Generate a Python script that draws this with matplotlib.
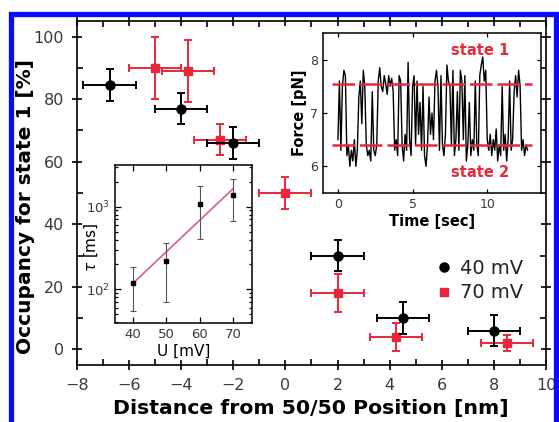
import numpy as np
import matplotlib
matplotlib.use("Agg")
import matplotlib.pyplot as plt
from matplotlib.lines import Line2D
from matplotlib.patches import Rectangle
from matplotlib.ticker import MultipleLocator, LogLocator, NullFormatter

plt.rcParams["font.family"] = ["DejaVu Sans"]

# 主图数据: 40 mV
x40 = [-6.75, -4.0, -2.0, 2.0, 4.5, 8.0]
y40 = [84.5, 77.0, 66.0, 30.0, 10.0, 6.0]
xerr40 = [1.0, 1.0, 1.0, 1.0, 1.0, 1.0]
yerr40 = [5.0, 5.0, 5.0, 5.0, 5.0, 5.0]

# 主图数据: 70 mV
x70 = [-5.0, -3.75, -2.5, 0.0, 2.0, 4.25, 8.5]
y70 = [90.0, 89.0, 67.0, 50.0, 18.0, 4.0, 2.0]
xerr70 = [1.0, 1.0, 1.0, 1.0, 1.0, 1.0, 1.0]
yerr70 = [10.0, 10.0, 5.0, 5.0, 6.0, 4.5, 2.5]

# 插图1: tau vs U
u_mv = [40, 50, 60, 70]
tau_ms = [118, 217, 1090, 1400]
tau_lo = [54, 70, 411, 680]
tau_hi = [184, 368, 1790, 2170]
fit_u = [40, 70]
fit_tau = [118, 1650]

# 插图2: 力随时间变化 (每0.1 s读一个点)
force_pn = [
    6.5, 7.6, 6.3, 7.5, 7.8, 7.7, 6.2, 6.4, 6.0, 6.3,
    6.1, 6.5, 6.0, 6.3, 7.3, 7.6, 6.8, 7.8, 7.5, 6.4,
    6.2, 6.3, 6.1, 7.4, 6.3, 6.2, 6.4, 7.6, 7.85, 7.5,
    7.4, 7.7, 7.55, 7.35, 7.7, 7.5, 7.65, 7.4, 6.3, 6.5,
    6.2, 7.7, 7.6, 6.4, 6.1, 6.6, 6.3, 7.95, 6.5, 6.2,
    7.5, 7.7, 6.4, 7.6, 6.6, 7.2, 6.3, 7.5, 6.2, 6.0,
    6.4, 7.3, 6.6, 7.0, 6.5, 7.6, 7.8, 7.5, 6.3, 7.7,
    6.4, 6.2, 6.6, 7.9, 7.6, 7.5, 6.4, 7.8, 6.2, 6.5,
    7.4, 6.3, 7.8, 7.6, 6.5, 7.7, 6.1, 6.4, 7.2, 6.2,
    6.5, 6.3, 7.6, 6.4, 6.2, 7.7, 7.9, 8.05, 7.6, 7.8,
    6.5, 6.3, 6.6, 6.2, 6.5, 6.3, 6.7, 6.1, 6.4, 6.2,
    7.5, 6.3, 6.6, 6.1, 6.5, 7.6, 6.3, 6.5, 7.4, 7.7,
    7.3, 7.8, 7.5, 6.3, 6.5, 6.2, 6.4, 6.3,
]
time_s = np.arange(len(force_pn)) * 0.1
state_levels = [7.55, 6.4]

red = "#e8283a"
tick_gray = "#3a3a3a"

fig = plt.figure(figsize=(5.59, 4.22), dpi=100)

# 蓝色边框
fig.add_artist(Rectangle((10.5 / 559, -0.05), (556 - 10.5) / 559, 1.05 - 14 / 422,
                         transform=fig.transFigure, fill=False,
                         edgecolor="#0a0aff", linewidth=3.8, zorder=10))

# 主图
ax = fig.add_axes([0.1377, 0.1351, 0.839, 0.8151])
ax.errorbar(x40, y40, xerr=xerr40, yerr=yerr40, fmt="o", color="black",
            ms=6.5, elinewidth=1.4, capsize=3, capthick=1.4, zorder=3)
ax.errorbar(x70, y70, xerr=xerr70, yerr=yerr70, fmt="s", color=red,
            ms=5.5, elinewidth=1.4, capsize=3, capthick=1.4, zorder=2)
ax.set_xlim(-8, 10)
ax.set_ylim(-5, 105)
ax.xaxis.set_major_locator(MultipleLocator(2))
ax.xaxis.set_minor_locator(MultipleLocator(1))
ax.yaxis.set_major_locator(MultipleLocator(20))
ax.yaxis.set_minor_locator(MultipleLocator(10))
ax.tick_params(which="major", direction="inout", length=7, width=1.2,
               labelsize=11.5, labelcolor=tick_gray, pad=6)
ax.tick_params(which="minor", direction="in", length=4, width=1.2)
ax.tick_params(axis="both", which="both", top=True, right=True)
for s in ax.spines.values():
    s.set_linewidth(1.2)
ax.set_xlabel("Distance from 50/50 Position [nm]", fontsize=14.7,
              fontweight="bold")
ax.set_ylabel("Occupancy for state 1 [%]", fontsize=14.5, fontweight="bold")
ax.xaxis.set_label_coords(0.499, -0.098)
ax.yaxis.set_label_coords(-0.09, 0.46)

handles = [
    Line2D([], [], marker="o", color="black", ls="none", ms=6.5),
    Line2D([], [], marker="s", color=red, ls="none", ms=5.5),
]
ax.legend(handles, ["40 mV", "70 mV"], loc="upper left",
          bbox_to_anchor=(0.728, 0.36), frameon=False, fontsize=14,
          handlelength=0.8, handletextpad=0.45, labelspacing=0.3,
          labelcolor="#222222")

# 插图1
ax1 = fig.add_axes([0.2057, 0.2346, 0.2451, 0.3744])
ax1.errorbar(u_mv, tau_ms,
             yerr=[np.subtract(tau_ms, tau_lo), np.subtract(tau_hi, tau_ms)],
             fmt="s", color="black", ms=3.5, ecolor="#555555",
             elinewidth=0.8, capsize=2.5, capthick=0.8, zorder=3)
ax1.plot(fit_u, fit_tau, color="#d9607a", lw=1.2, zorder=2)
ax1.set_yscale("log")
ax1.set_xlim(34.6, 75.7)
ax1.set_ylim(39, 3200)
ax1.set_xticks([40, 50, 60, 70])
ax1.yaxis.set_major_locator(LogLocator(base=10))
ax1.yaxis.set_minor_locator(LogLocator(base=10, subs=np.arange(2, 10)))
ax1.yaxis.set_minor_formatter(NullFormatter())
ax1.tick_params(which="both", direction="in", top=True, right=True,
                labelsize=9.5, labelcolor=tick_gray, width=0.9)
ax1.tick_params(which="major", length=4)
ax1.tick_params(which="minor", length=2)
for s in ax1.spines.values():
    s.set_linewidth(1.1)
ax1.set_xlabel("U [mV]", fontsize=11)
ax1.set_ylabel(r"$\tau$ [ms]", fontsize=11)
ax1.xaxis.set_label_coords(0.5, -0.13)
ax1.yaxis.set_label_coords(-0.11, 0.48)

# 插图2
ax2 = fig.add_axes([0.5778, 0.5427, 0.39, 0.3791])
ax2.plot(time_s, force_pn, color="black", lw=1.0, zorder=2)
for lvl in state_levels:
    ax2.plot([-0.4, 13.0], [lvl, lvl], color=red, lw=1.8,
             dashes=(9, 2), zorder=3)
ax2.set_xlim(-1.0, 13.6)
ax2.set_ylim(5.5, 8.5)
ax2.set_xticks([0, 5, 10])
ax2.set_yticks([6, 7, 8])
ax2.tick_params(which="both", direction="in", top=True, right=True,
                labelsize=9, labelcolor=tick_gray, length=3, width=0.9)
for s in ax2.spines.values():
    s.set_linewidth(1.1)
ax2.set_xlabel("Time [sec]", fontsize=10.5, fontweight="bold", labelpad=2)
ax2.set_ylabel("Force [pN]", fontsize=10.5, fontweight="bold", labelpad=2)
ax2.text(0.72, 0.89, "state 1", transform=ax2.transAxes, color=red,
         fontsize=10.5, fontweight="bold", ha="center", va="center")
ax2.text(0.72, 0.125, "state 2", transform=ax2.transAxes, color=red,
         fontsize=10.5, fontweight="bold", ha="center", va="center")

fig.savefig("out.png", dpi=100)
